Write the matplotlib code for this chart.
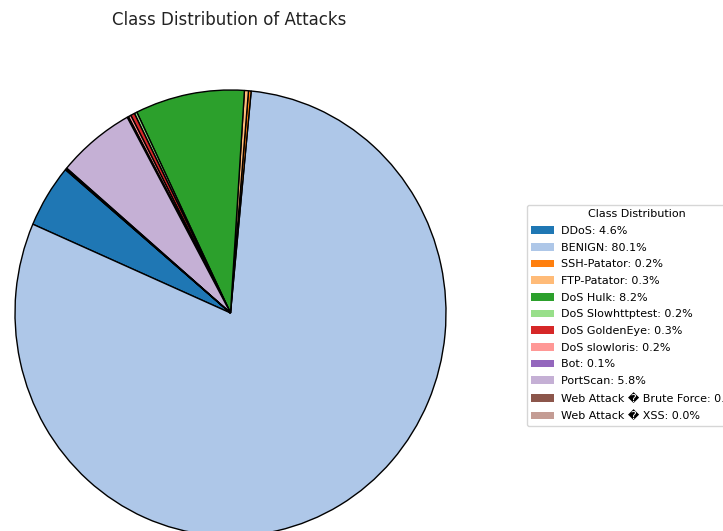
import matplotlib
matplotlib.use("Agg")
import matplotlib.pyplot as plt
from matplotlib.patches import Patch

# Datos (porcentaje por clase)
classes = ['DDoS', 'BENIGN', 'SSH-Patator', 'FTP-Patator', 'DoS Hulk',
           'DoS Slowhttptest', 'DoS GoldenEye', 'DoS slowloris', 'Bot',
           'PortScan', 'Web Attack \ufffd Brute Force', 'Web Attack \ufffd XSS']
percents = [4.6, 80.1, 0.2, 0.3, 8.2, 0.2, 0.3, 0.2, 0.1, 5.8, 0.1, 0.04]

colors = plt.get_cmap('tab20').colors[:len(classes)]
labels = [f'{c}: {p:.1f}%' for c, p in zip(classes, percents)]

fig = plt.figure(figsize=(7.23, 5.31), dpi=100)
ax = fig.add_axes([15 / 723, -5 / 531, 431 / 723, 446 / 531])
ax.pie(percents, colors=colors, startangle=140,
       wedgeprops={'edgecolor': 'black', 'linewidth': 1})
ax.set_aspect('auto')
ax.set_xlim(-1, 1)
ax.set_ylim(-1, 1)

fig.text(229 / 723, 1 - 20 / 531, 'Class Distribution of Attacks',
         ha='center', va='center', fontsize=12, color='#222222')

handles = [Patch(facecolor=c, edgecolor='none') for c in colors]
fig.legend(handles, labels, title='Class Distribution', loc='upper left',
           bbox_to_anchor=(527 / 723, 1 - 205 / 531), fontsize=8,
           title_fontsize=8, borderaxespad=0, labelspacing=0.6,
           handletextpad=0.65)

fig.savefig('out.png', dpi=100)
